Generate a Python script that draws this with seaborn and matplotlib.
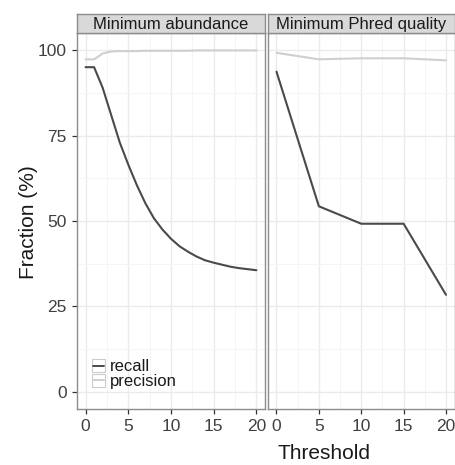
import numpy as np
import pandas as pd
import matplotlib
matplotlib.use("Agg")
import matplotlib.pyplot as plt
import seaborn as sns
from matplotlib.patches import Rectangle
from matplotlib.lines import Line2D
from matplotlib.legend_handler import HandlerBase

# ---------------- data ----------------
panels = ["Minimum abundance", "Minimum Phred quality"]
series = ["recall", "precision"]

abund_threshold = list(range(21))
abund_recall = [95.0, 95.0, 89.0, 81.0, 73.0, 66.5, 60.5, 55.2, 50.8, 47.5, 44.8,
                42.6, 41.0, 39.6, 38.5, 37.8, 37.2, 36.6, 36.2, 35.9, 35.6]
abund_precision = [97.3, 97.3, 99.0, 99.6, 99.7, 99.7, 99.7, 99.8, 99.8, 99.8, 99.8,
                   99.8, 99.8, 99.9, 99.9, 99.9, 99.9, 99.9, 99.9, 99.9, 99.9]

phred_threshold = [0, 5, 10, 15, 20]
phred_recall = [93.7, 54.3, 49.2, 49.2, 28.4]
phred_precision = [99.2, 97.3, 97.6, 97.6, 97.0]

x_ticks = [0, 5, 10, 15, 20]
y_ticks = [0, 25, 50, 75, 100]
x_label = "Threshold"
y_label = "Fraction (%)"

rows = []
for t, r, p in zip(abund_threshold, abund_recall, abund_precision):
    rows.append((panels[0], t, "recall", r))
    rows.append((panels[0], t, "precision", p))
for t, r, p in zip(phred_threshold, phred_recall, phred_precision):
    rows.append((panels[1], t, "recall", r))
    rows.append((panels[1], t, "precision", p))
df = pd.DataFrame(rows, columns=["panel", "threshold", "measure", "value"])

# ---------------- style ----------------
sns.set_style("white")
plt.rcParams["font.family"] = ["Liberation Sans", "DejaVu Sans"]

palette = {"recall": "#4a4a4a", "precision": "#cfcfcf"}
tick_col = "#404040"
border_col = "#8c8c8c"

W, H = 455, 465
fig = plt.figure(figsize=(W / 100, H / 100), dpi=100)

def fx(px):
    return px / W

def fy(py):
    return 1 - py / H

panel_top, panel_bot = 33, 409
strip_top = 14
lefts = [(77, 265), (268, 454.5)]

axes = []
for i, (l, r) in enumerate(lefts):
    ax = fig.add_axes([fx(l), fy(panel_bot), fx(r - l), (panel_bot - panel_top) / H])
    sub = df[df["panel"] == panels[i]]
    sns.lineplot(data=sub, x="threshold", y="value", hue="measure",
                 hue_order=series, palette=palette, linewidth=1.5,
                 ax=ax, legend=False)
    ax.set_xlim(-1, 21)
    ax.set_ylim(-5, 105)
    ax.set_xticks(x_ticks)
    ax.set_yticks(y_ticks)
    ax.set_xticks(np.arange(2.5, 20, 5), minor=True)
    ax.set_yticks(np.arange(12.5, 100, 25), minor=True)
    ax.grid(True, which="major", color="#ebebeb", linewidth=1.0, zorder=0)
    ax.grid(True, which="minor", color="#f5f5f5", linewidth=0.7, zorder=0)
    ax.set_axisbelow(True)
    for s in ax.spines.values():
        s.set_color(border_col)
        s.set_linewidth(1.0)
    ax.tick_params(axis="both", which="major", direction="out", length=3.5,
                   width=0.9, color="#333333", labelsize=12.5, labelcolor=tick_col, pad=4)
    ax.tick_params(axis="both", which="minor", length=0)
    ax.tick_params(axis="x", bottom=True)
    ax.set_xlabel("")
    ax.set_ylabel("")
    if i == 0:
        ax.tick_params(axis="y", left=True)
    else:
        ax.tick_params(axis="y", left=False, labelleft=False)
    axes.append(ax)

    # strip
    sax = fig.add_axes([fx(l), fy(panel_top), fx(r - l), (panel_top - strip_top) / H])
    sax.set_facecolor("#d9d9d9")
    sax.set_xticks([])
    sax.set_yticks([])
    for s in sax.spines.values():
        s.set_color(border_col)
        s.set_linewidth(1.0)
    sax.text(0.5, 0.45, panels[i], transform=sax.transAxes, ha="center", va="center",
             fontsize=12, color="#1a1a1a")

fig.text(fx(324), fy(453), x_label, ha="center", va="center", fontsize=15, color="#1a1a1a")
fig.text(fx(28), fy(222), y_label, ha="center", va="center", rotation=90,
         fontsize=15, color="#1a1a1a")

# legend with boxed keys
class BoxLineHandler(HandlerBase):
    def create_artists(self, legend, orig_handle, xdescent, ydescent, width, height,
                       fontsize, trans):
        rect = Rectangle((-xdescent, -ydescent), width, height, facecolor="white",
                         edgecolor="#cccccc", linewidth=0.8, transform=trans)
        y = -ydescent + height / 2
        line = Line2D([-xdescent + 1, -xdescent + width - 1], [y, y],
                      color=orig_handle.get_color(), linewidth=1.4, transform=trans)
        return [rect, line]

handles = [Line2D([], [], color=palette[s]) for s in series]
leg = axes[0].legend(handles, series, handler_map={Line2D: BoxLineHandler()},
                     loc="lower left", bbox_to_anchor=(fx(92), fy(389)),
                     bbox_transform=fig.transFigure, frameon=False, fontsize=12,
                     handlelength=0.8, handleheight=0.85, handletextpad=0.25,
                     labelspacing=-0.05, borderpad=0.0, borderaxespad=0.0)
for t in leg.get_texts():
    t.set_color("#1a1a1a")

fig.savefig("out.png", dpi=100)
